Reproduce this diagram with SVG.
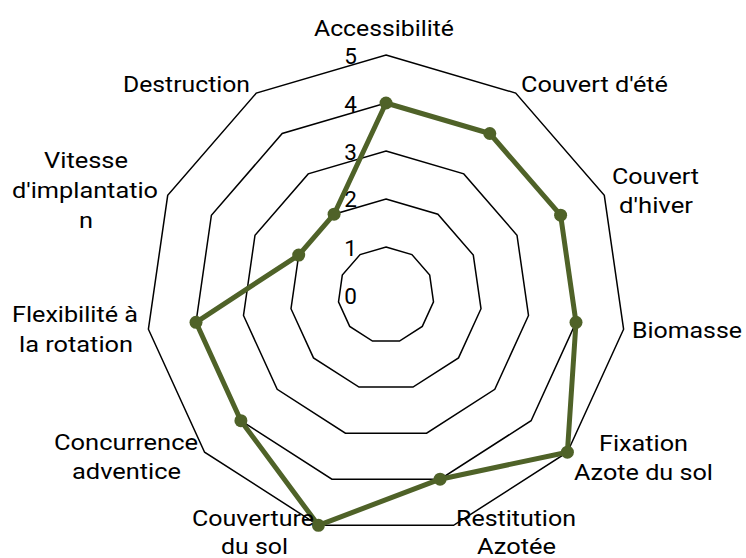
<svg xmlns="http://www.w3.org/2000/svg" width="746" height="558" viewBox="0 0 746 558">
<style>
.ring{fill:none;stroke:#000;stroke-width:1.5;stroke-linejoin:miter}
.lbl{font-family:Roboto,"Liberation Sans",sans-serif;font-size:22.5px;fill:#000}
.num{font-family:Roboto,"Liberation Sans",sans-serif;font-size:22.5px;fill:#000;text-anchor:end}
.series{fill:none;stroke:#4F6228;stroke-width:5;stroke-linejoin:round}
.dot{fill:#4F6228}
</style>
<rect width="746" height="558" fill="#fff"/>
<g id="grid">
<polygon class="ring" points="386,247 411.9,254.6 429.7,275.1 433.5,301.8 422.3,326.4 399.5,341.1 372.5,341.1 349.7,326.4 338.5,301.8 342.3,275.1 360.1,254.6"/>
<polygon class="ring" points="386,199 437.9,214.2 473.3,255.1 481,308.7 458.5,357.9 413,387.1 359,387.1 313.5,357.9 291,308.7 298.7,255.1 334.1,214.2"/>
<polygon class="ring" points="386,151 463.8,173.9 517,235.2 528.5,315.5 494.8,389.3 426.6,433.2 345.4,433.2 277.2,389.3 243.5,315.5 255,235.2 308.2,173.9"/>
<polygon class="ring" points="386,103 489.8,133.5 560.6,215.2 576,322.3 531.1,420.7 440.1,479.2 331.9,479.2 240.9,420.7 196,322.3 211.4,215.2 282.2,133.5"/>
<polygon class="ring" points="386,55 515.7,93.1 604.3,195.3 623.6,329.2 567.4,452.2 453.6,525.3 318.4,525.3 204.6,452.2 148.4,329.2 167.7,195.3 256.3,93.1"/>
</g>
<g id="scale">
<text class="num" x="357" y="304">0</text>
<text class="num" x="357" y="255.5">1</text>
<text class="num" x="357" y="207">2</text>
<text class="num" x="357" y="159.5">3</text>
<text class="num" x="357" y="112">4</text>
<text class="num" x="357" y="64">5</text>
</g>
<g id="connectors">
<polygon class="series" points="386,103 489.8,133.5 560.6,215.2 576,322.3 567.4,452.2 440.1,479.2 318.4,525.3 240.9,420.7 196,322.3 298.7,255.1 334.1,214.2"/>
</g>
<g id="markers">
<circle class="dot" cx="386" cy="103" r="6.5"/>
<circle class="dot" cx="489.8" cy="133.5" r="6.5"/>
<circle class="dot" cx="560.6" cy="215.2" r="6.5"/>
<circle class="dot" cx="576" cy="322.3" r="6.5"/>
<circle class="dot" cx="567.4" cy="452.2" r="6.5"/>
<circle class="dot" cx="440.1" cy="479.2" r="6.5"/>
<circle class="dot" cx="318.4" cy="525.3" r="6.5"/>
<circle class="dot" cx="240.9" cy="420.7" r="6.5"/>
<circle class="dot" cx="196" cy="322.3" r="6.5"/>
<circle class="dot" cx="298.7" cy="255.1" r="6.5"/>
<circle class="dot" cx="334.1" cy="214.2" r="6.5"/>
</g>
<g id="axis-accessibilite"><text class="lbl" x="384" y="36" text-anchor="middle" textLength="140" lengthAdjust="spacingAndGlyphs">Accessibilité</text></g>
<g id="axis-couvert-ete"><text class="lbl" x="521" y="92" textLength="147" lengthAdjust="spacingAndGlyphs">Couvert d'été</text></g>
<g id="axis-couvert-hiver"><text class="lbl" text-anchor="middle"><tspan x="655.5" y="184" textLength="87" lengthAdjust="spacingAndGlyphs">Couvert</tspan><tspan x="656" y="213" textLength="74" lengthAdjust="spacingAndGlyphs">d'hiver</tspan></text></g>
<g id="axis-biomasse"><text class="lbl" x="632" y="338" textLength="110" lengthAdjust="spacingAndGlyphs">Biomasse</text></g>
<g id="axis-fixation"><text class="lbl" text-anchor="middle"><tspan x="643.5" y="451" textLength="89" lengthAdjust="spacingAndGlyphs">Fixation</tspan><tspan x="643.5" y="480" textLength="139" lengthAdjust="spacingAndGlyphs">Azote du sol</tspan></text></g>
<g id="axis-restitution"><text class="lbl" text-anchor="middle"><tspan x="516" y="526" textLength="120" lengthAdjust="spacingAndGlyphs">Restitution</tspan><tspan x="516.5" y="554" textLength="79" lengthAdjust="spacingAndGlyphs">Azotée</tspan></text></g>
<g id="axis-couverture"><text class="lbl" text-anchor="middle"><tspan x="253" y="526" textLength="122" lengthAdjust="spacingAndGlyphs">Couverture</tspan><tspan x="254.5" y="554" textLength="67" lengthAdjust="spacingAndGlyphs">du sol</tspan></text></g>
<g id="axis-concurrence"><text class="lbl" text-anchor="middle"><tspan x="126" y="450" textLength="144" lengthAdjust="spacingAndGlyphs">Concurrence</tspan><tspan x="126.5" y="479" textLength="109" lengthAdjust="spacingAndGlyphs">adventice</tspan></text></g>
<g id="axis-flexibilite"><text class="lbl" text-anchor="middle"><tspan x="75" y="322" textLength="126" lengthAdjust="spacingAndGlyphs">Flexibilité à</tspan><tspan x="76" y="351.5" textLength="114" lengthAdjust="spacingAndGlyphs">la rotation</tspan></text></g>
<g id="axis-vitesse"><text class="lbl" text-anchor="middle"><tspan x="86" y="168" textLength="84" lengthAdjust="spacingAndGlyphs">Vitesse</tspan><tspan x="85" y="198" textLength="146" lengthAdjust="spacingAndGlyphs">d'implantatio</tspan><tspan x="86" y="228" textLength="14" lengthAdjust="spacingAndGlyphs">n</tspan></text></g>
<g id="axis-destruction"><text class="lbl" x="250" y="92" text-anchor="end" textLength="127" lengthAdjust="spacingAndGlyphs">Destruction</text></g>
</svg>
